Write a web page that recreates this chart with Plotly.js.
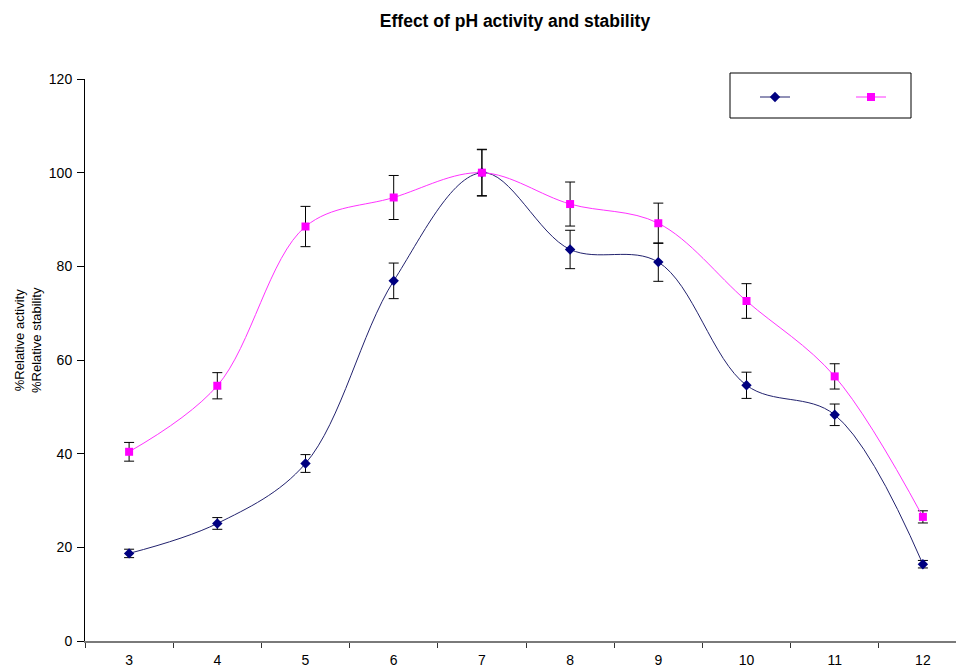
<!DOCTYPE html>
<html>
<head>
<meta charset="utf-8">
<script src="https://cdn.plot.ly/plotly-3.0.1.min.js"></script>
<style>html,body{margin:0;padding:0;background:#fff;}#chart{width:956px;height:669px;}</style>
</head>
<body>
<div id="chart"></div>
<script>
const pH = ['3','4','5','6','7','8','9','10','11','12'];
const activity = [18.7, 25.1, 37.9, 76.9, 100, 83.6, 80.9, 54.6, 48.3, 16.4];
const activityErr = [0.9, 1.25, 1.9, 3.8, 5, 4.1, 4.1, 2.8, 2.3, 0.8];
const stability = [40.4, 54.5, 88.5, 94.7, 100, 93.3, 89.2, 72.6, 56.5, 26.5];
const stabilityErr = [2.0, 2.8, 4.3, 4.7, 4.9, 4.7, 4.3, 3.7, 2.7, 1.3];
const yTicks = [0, 20, 40, 60, 80, 100, 120];
const yTitle = '%Relative activity<br>%Relative stability';
const chartTitle = '<b>Effect of pH activity and stability</b>';

const FONT = 'Liberation Sans, Arial, sans-serif';
const W = 956, H = 669, L = 85, T = 79, B = 28;
const PW = W - L, PH = H - T - B;

const traces = [
  {
    x: pH, y: activity, name: ' ', type: 'scatter', mode: 'lines+markers',
    line: {shape: 'spline', smoothing: 1, color: '#22226e', width: 1},
    marker: {symbol: 'diamond', size: 8, color: '#000080'},
    error_y: {type: 'data', array: activityErr, visible: true, color: '#000', thickness: 1, width: 5}
  },
  {
    x: pH, y: stability, name: ' ', type: 'scatter', mode: 'lines+markers',
    line: {shape: 'spline', smoothing: 1, color: '#ff33ff', width: 1},
    marker: {symbol: 'square', size: 8, color: '#ff00ff'},
    error_y: {type: 'data', array: stabilityErr, visible: true, color: '#000', thickness: 1, width: 5}
  }
];

const layout = {
  width: W, height: H,
  paper_bgcolor: '#fff', plot_bgcolor: '#fff',
  margin: {l: L, r: 0, t: T, b: B, autoexpand: false},
  font: {family: FONT, size: 12, color: '#000'},
  title: {
    text: chartTitle,
    font: {family: FONT, size: 17.5, color: '#000'},
    x: 515 / W, xanchor: 'center', xref: 'container',
    y: 1 - 21 / H, yref: 'container', yanchor: 'middle'
  },
  xaxis: {
    type: 'category', range: [-0.5, -0.5 + PW / 88.2],
    showgrid: false, zeroline: false,
    showline: true, linecolor: '#7a7a7a', linewidth: 2,
    ticks: 'outside', ticklen: 5, tickcolor: '#333', tickson: 'boundaries',
    ticklabelstandoff: 5,
    tickfont: {family: FONT, size: 14, color: '#000'}
  },
  yaxis: {
    range: [0, 120], tickvals: yTicks,
    showgrid: false, zeroline: false,
    showline: true, linecolor: '#000', linewidth: 1,
    ticks: 'outside', ticklen: 7, tickcolor: '#000',
    ticklabelstandoff: 2,
    tickfont: {family: FONT, size: 14, color: '#000'}
  },
  annotations: [{
    text: yTitle, xref: 'paper', yref: 'paper',
    x: (28 - L) / PW, y: 1 - (340 - T) / PH,
    xanchor: 'center', yanchor: 'middle', textangle: -90, showarrow: false,
    font: {family: FONT, size: 13, color: '#000'}
  }],
  showlegend: true,
  legend: {
    orientation: 'h', x: (755 - L) / PW, y: 1 - (97 - T) / PH, xanchor: 'left', yanchor: 'middle',
    entrywidth: 51, entrywidthmode: 'pixels',
    bgcolor: 'rgba(0,0,0,0)', borderwidth: 0,
    font: {family: FONT, size: 12}
  },
  shapes: [{
    type: 'rect', xref: 'paper', yref: 'paper',
    x0: (730 - L) / PW, x1: (911 - L) / PW,
    y0: 1 - (118 - T) / PH, y1: 1 - (73 - T) / PH,
    line: {color: '#000', width: 1}, fillcolor: 'rgba(0,0,0,0)', layer: 'above'
  }]
};

Plotly.newPlot('chart', traces, layout, {displayModeBar: false, staticPlot: true});
</script>
</body>
</html>
